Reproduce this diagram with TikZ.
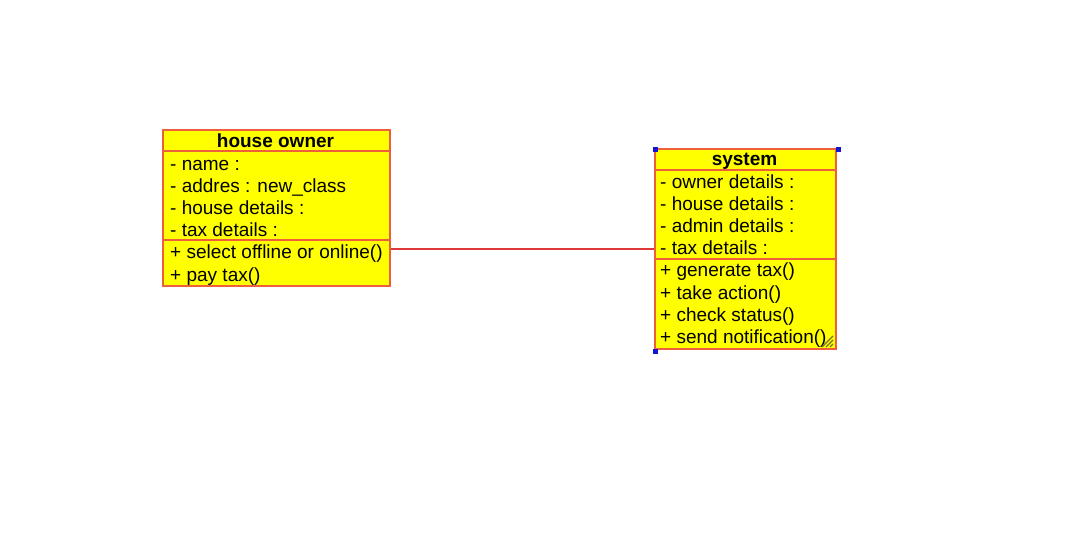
\documentclass[tikz,border=0pt]{standalone}
\usepackage{fontspec}
\setmainfont{Liberation Sans}
\definecolor{classfill}{RGB}{255,255,0}
\definecolor{classline}{RGB}{238,96,60}
\definecolor{assocline}{RGB}{222,56,56}
\definecolor{handle}{RGB}{20,20,210}
\definecolor{grip}{RGB}{120,110,50}
\begin{document}
\begin{tikzpicture}[x=1pt, y=-1pt,
        classbox/.style={draw=classline, fill=classfill, line width=2pt, inner sep=0pt, anchor=north west},
        sepline/.style={draw=classline, line width=2pt},
        row/.style={anchor=base west, inner sep=0pt, font=\fontsize{19}{22}\selectfont},
        title/.style={anchor=base, inner sep=0pt, font=\bfseries\fontsize{19}{22}\selectfont}]
        \useasboundingbox (0, 0) rectangle (1080, 557);

        % house owner
        \node[classbox, minimum width=227, minimum height=156] (owner) at (162, 129) {};
        \node[title] (owner title) at (275.5, 147) {house owner};
        \draw[sepline] (162, 151) -- (389, 151);
        \draw[sepline] (162, 240) -- (389, 240);
        \foreach \t [count=\i] in {{- name :}, {- addres : new\_class}, {- house details :}, {- tax details :}, {+ select offline or online()}, {+ pay tax()}} {
            \node[row] (owner row \i) at (170, 147.8 + 22.2*\i) {\t};
        }

        % system
        \node[classbox, minimum width=181, minimum height=200] (system) at (654, 148) {};
        \node[title] (system title) at (744.5, 165) {system};
        \draw[sepline] (654, 170) -- (835, 170);
        \draw[sepline] (654, 258.5) -- (835, 258.5);
        \foreach \t [count=\i] in {{- owner details :}, {- house details :}, {- admin details :}, {- tax details :}, {+ generate tax()}, {+ take action()}, {+ check status()}, {+ send notification()}} {
            \node[row] (system row \i) at (660, 166.2 + 22.14*\i) {\t};
        }

        % association
        \draw[assocline, line width=1.5pt] (system.west) -- (system.west -| owner.east);

        % selection handles and grip
        \foreach \c in {north west, north east, south west} {
            \fill[handle] (system.\c) ++(-1.5, -1.5) rectangle ++(5, 5);
        }
        \foreach \d in {0, 4, 8} {
            \draw[grip, line width=1.2pt] (833, 336 + \d) -- (822 + \d, 347);
        }
    \end{tikzpicture}
\end{document}
